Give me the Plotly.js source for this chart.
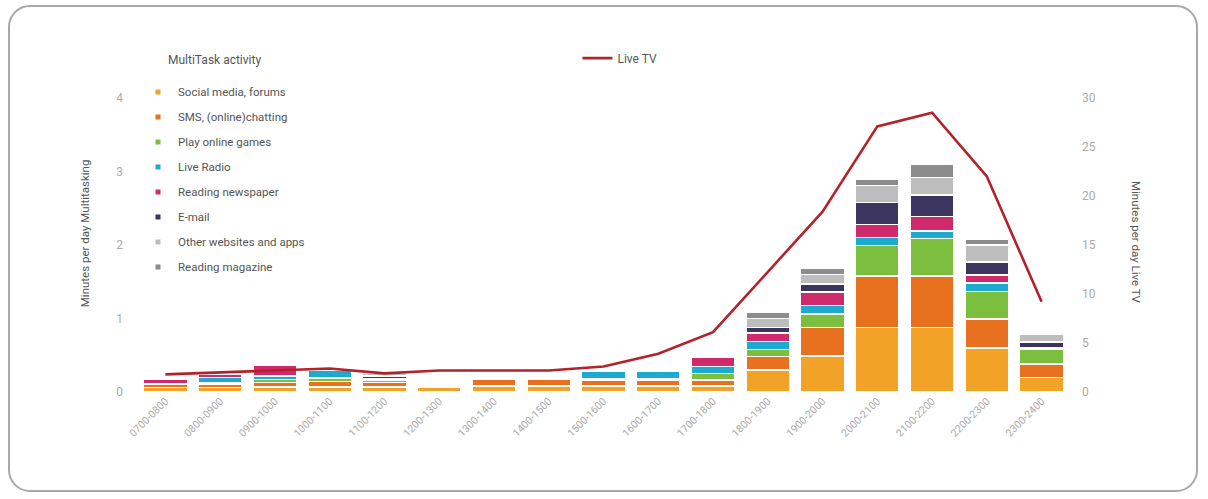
<!DOCTYPE html>
<html>
<head>
<meta charset="utf-8">
<script src="https://cdn.plot.ly/plotly-3.0.1.min.js"></script>
<style>
  html, body { margin: 0; padding: 0; background: #fff; }
  #frame { position: absolute; left: 8px; top: 5px; width: 1190px; height: 487px;
           border: 2px solid #a8a8a8; border-radius: 22px; box-sizing: border-box; }
  #chart { position: absolute; left: 0; top: 0; width: 1208px; height: 499px; }
</style>
</head>
<body>
<div id="frame"></div>
<div id="chart"></div>
<script>
const categories = ["0700-0800","0800-0900","0900-1000","1000-1100","1100-1200","1200-1300","1300-1400","1400-1500","1500-1600","1600-1700","1700-1800","1800-1900","1900-2000","2000-2100","2100-2200","2200-2300","2300-2400"];

const socialMedia   = [0.06,0.06,0.07,0.07,0.07,0.07,0.08,0.08,0.08,0.08,0.08,0.30,0.49,0.88,0.88,0.60,0.20];
const smsChatting   = [0.05,0.05,0.06,0.07,0.06,0.00,0.10,0.09,0.08,0.08,0.08,0.18,0.39,0.70,0.70,0.39,0.18];
const onlineGames   = [0.00,0.02,0.04,0.05,0.03,0.00,0.00,0.00,0.02,0.02,0.09,0.10,0.18,0.41,0.51,0.38,0.20];
const liveRadio     = [0.00,0.07,0.05,0.11,0.02,0.00,0.00,0.00,0.10,0.10,0.10,0.11,0.12,0.11,0.10,0.11,0.02];
const newspaper     = [0.07,0.04,0.15,0.00,0.00,0.00,0.00,0.00,0.00,0.00,0.12,0.11,0.18,0.18,0.20,0.11,0.00];
const email         = [0.00,0.00,0.00,0.00,0.04,0.00,0.00,0.00,0.00,0.00,0.00,0.08,0.11,0.30,0.29,0.18,0.08];
const otherWebsites = [0.00,0.00,0.00,0.00,0.03,0.00,0.00,0.00,0.00,0.00,0.00,0.12,0.13,0.23,0.24,0.23,0.10];
const magazine      = [0.00,0.00,0.00,0.00,0.00,0.00,0.00,0.00,0.00,0.00,0.00,0.08,0.09,0.08,0.18,0.08,0.00];

const liveTV = [1.8,2.0,2.2,2.4,1.9,2.2,2.2,2.2,2.6,3.9,6.1,12.2,18.4,27.1,28.5,22.0,9.2];

const seriesNames = ["Social media, forums","SMS, (online)chatting","Play online games","Live Radio","Reading newspaper","E-mail","Other websites and apps","Reading magazine"];
const seriesValues = [socialMedia, smsChatting, onlineGames, liveRadio, newspaper, email, otherWebsites, magazine];
const seriesColors = ["#F2A227","#E8711F","#7CBF3E","#1EAACF","#CF2A6B","#3B355F","#BDBDBD","#8C8C8C"];

const FONT = "'Liberation Sans Narrow', 'Roboto', sans-serif";

const traces = [];
seriesNames.forEach((name, i) => {
  traces.push({
    type: "bar",
    name: name,
    x: categories,
    y: seriesValues[i],
    legendgroup: "g" + i,
    showlegend: false,
    marker: { color: seriesColors[i], line: { color: "#ffffff", width: 1.5 } }
  });
});
// legend-only entries with small square swatches
seriesNames.forEach((name, i) => {
  traces.push({
    type: "scatter",
    mode: "markers",
    name: name,
    x: [categories[0]],
    y: [null],
    legendgroup: "g" + i,
    showlegend: true,
    marker: { symbol: "square", size: 5, color: seriesColors[i] }
  });
});

traces.push({
  type: "scatter",
  mode: "lines",
  name: "Live TV",
  x: categories,
  y: liveTV,
  yaxis: "y2",
  legend: "legend2",
  line: { color: "#B3222A", width: 2.6 }
});

const layout = {
  width: 1208, height: 499,
  margin: { l: 138, r: 139, t: 98, b: 107 },
  paper_bgcolor: "rgba(0,0,0,0)",
  plot_bgcolor: "rgba(0,0,0,0)",
  barmode: "stack",
  bargap: 0.2,
  font: { family: FONT, color: "#777" },
  showlegend: true,
  xaxis: {
    type: "category",
    range: [-0.5, categories.length - 0.5],
    autorange: false,
    tickangle: -45,
    tickfont: { size: 10.5, color: "#aaaaaa", family: FONT },
    showgrid: false, zeroline: false, showline: false, ticks: "",
    fixedrange: true
  },
  yaxis: {
    range: [0, 4],
    tickvals: [0, 1, 2, 3, 4],
    tickfont: { size: 12, color: "#aaaaaa", family: FONT },
    showgrid: false, zeroline: false, showline: false, ticks: "",
    ticklabelstandoff: 14
  },
  yaxis2: {
    overlaying: "y",
    side: "right",
    range: [0, 30],
    tickvals: [0, 5, 10, 15, 20, 25, 30],
    tickfont: { size: 12, color: "#aaaaaa", family: FONT },
    showgrid: false, zeroline: false, showline: false, ticks: "",
    ticklabelstandoff: 12
  },
  legend: {
    x: 0.0, y: 1.07, xanchor: "left", yanchor: "top",
    orientation: "v",
    traceorder: "grouped",
    tracegroupgap: 6,
    itemwidth: 30,
    bgcolor: "rgba(0,0,0,0)",
    font: { size: 11.5, color: "#555", family: FONT }
  },
  legend2: {
    x: 0.472, y: 1.185, xanchor: "left", yanchor: "top",
    bgcolor: "rgba(0,0,0,0)",
    font: { size: 12, color: "#555", family: FONT }
  },
  annotations: [
    { text: "MultiTask activity", xref: "paper", yref: "paper",
      x: 0.030, y: 1.129, xanchor: "left", yanchor: "middle",
      showarrow: false, font: { size: 12, color: "#555", family: FONT } },
    { text: "Minutes per day Multitasking", xref: "paper", yref: "paper",
      x: -0.057, y: 0.54, xanchor: "center", yanchor: "middle", textangle: -90,
      showarrow: false, font: { size: 11.5, color: "#555", family: FONT } },
    { text: "Minutes per day Live TV", xref: "paper", yref: "paper",
      x: 1.072, y: 0.51, xanchor: "center", yanchor: "middle", textangle: 90,
      showarrow: false, font: { size: 11.5, color: "#555", family: FONT } }
  ]
};

Plotly.newPlot("chart", traces, layout, { displayModeBar: false, staticPlot: true });
</script>
</body>
</html>
